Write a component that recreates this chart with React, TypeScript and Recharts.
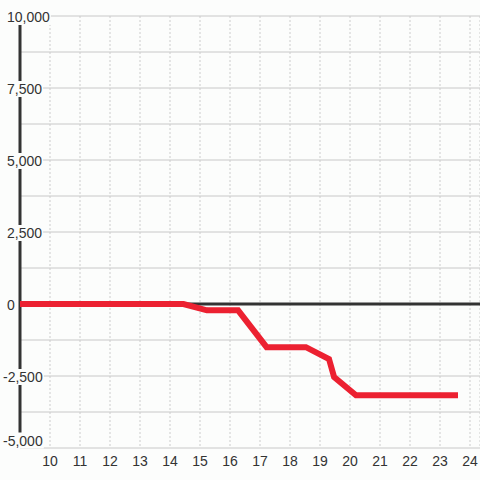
import React from 'react';
import { LineChart, Line, XAxis, YAxis, CartesianGrid, ReferenceLine } from 'recharts';

const TIMES = [9, 14.45, 15.23, 16.27, 17.22, 18.53, 19.3, 19.47, 20.2, 23.5];
const VALUES = [0, 0, -220, -220, -1500, -1500, -1910, -2535, -3170, -3170];
const X_TICKS = [10, 11, 12, 13, 14, 15, 16, 17, 18, 19, 20, 21, 22, 23, 24];
const Y_GRID = [-5000, -3750, -2500, -1250, 0, 1250, 2500, 3750, 5000, 6250, 7500, 8750, 10000];
const X_DOMAIN = [9, 24.3333];
const Y_DOMAIN = [-5000, 10000];
const AXIS_SPAN = [10000, -4550];

const data = TIMES.map((t, i) => ({ t, v: VALUES[i] }));

const BG = '#fcfdfc';
const INK = '#333333';
const RED = '#ec2131';
const FONT = '"Liberation Sans", Arial, sans-serif';

function textWidth(s: string) {
  let w = 0;
  for (const c of s) {
    if (c === ',') w += 3.9;
    else if (c === '-') w += 4.7;
    else w += 7.8;
  }
  return w;
}

function YTick(props: any) {
  const { y, payload } = props;
  const v = payload.value;
  if (v % 2500 !== 0) return <g />;
  const label = v.toLocaleString('en-US');
  const x0 = v < 0 ? 3 : 7;
  const w = textWidth(label);
  const base = v === Y_DOMAIN[0] ? y - 2.5 : y + 6;
  return (
    <g>
      <rect x={x0 - 1} y={base - 13} width={w + 2} height={16} fill={BG} />
      <text x={x0} y={base} textAnchor="start" fontSize={14} fontFamily={FONT} fill={INK}>
        {label}
      </text>
    </g>
  );
}

function XTick(props: any) {
  const { x, payload } = props;
  return (
    <text x={x} y={456} dy="0.71em" textAnchor="middle" fontSize={14} fontFamily={FONT} fill={INK}>
      {payload.value}
    </text>
  );
}

export default function App() {
  return (
    <div style={{ position: 'absolute', left: 0, top: 0, width: 480, height: 480, background: BG }}>
      <LineChart width={480} height={480} data={data} margin={{ top: 16, right: 0, left: 0, bottom: 0 }}>
        <CartesianGrid vertical={false} stroke="#c8c8c8" strokeWidth={1} />
        <CartesianGrid horizontal={false} stroke="#cccccc" strokeDasharray="2 2" strokeWidth={1} />
        <ReferenceLine y={0} stroke={INK} strokeWidth={3} zIndex={0} ifOverflow="visible" />
        <ReferenceLine
          segment={[{ x: X_DOMAIN[0], y: AXIS_SPAN[0] }, { x: X_DOMAIN[0], y: AXIS_SPAN[1] }]}
          stroke={INK}
          strokeWidth={3}
          zIndex={0}
          ifOverflow="visible"
        />
        <XAxis
          dataKey="t"
          type="number"
          domain={X_DOMAIN}
          ticks={X_TICKS}
          axisLine={false}
          tickLine={false}
          height={32}
          allowDataOverflow
          interval={0}
          tick={<XTick />}
        />
        <YAxis
          type="number"
          domain={Y_DOMAIN}
          ticks={Y_GRID}
          width={20}
          axisLine={false}
          tickLine={false}
          allowDataOverflow
          interval={0}
          tick={<YTick />}
        />
        <Line
          dataKey="v"
          type="linear"
          stroke={RED}
          strokeWidth={6}
          strokeLinecap="square"
          dot={false}
          isAnimationActive={false}
          zIndex={600}
        />
      </LineChart>
    </div>
  );
}
